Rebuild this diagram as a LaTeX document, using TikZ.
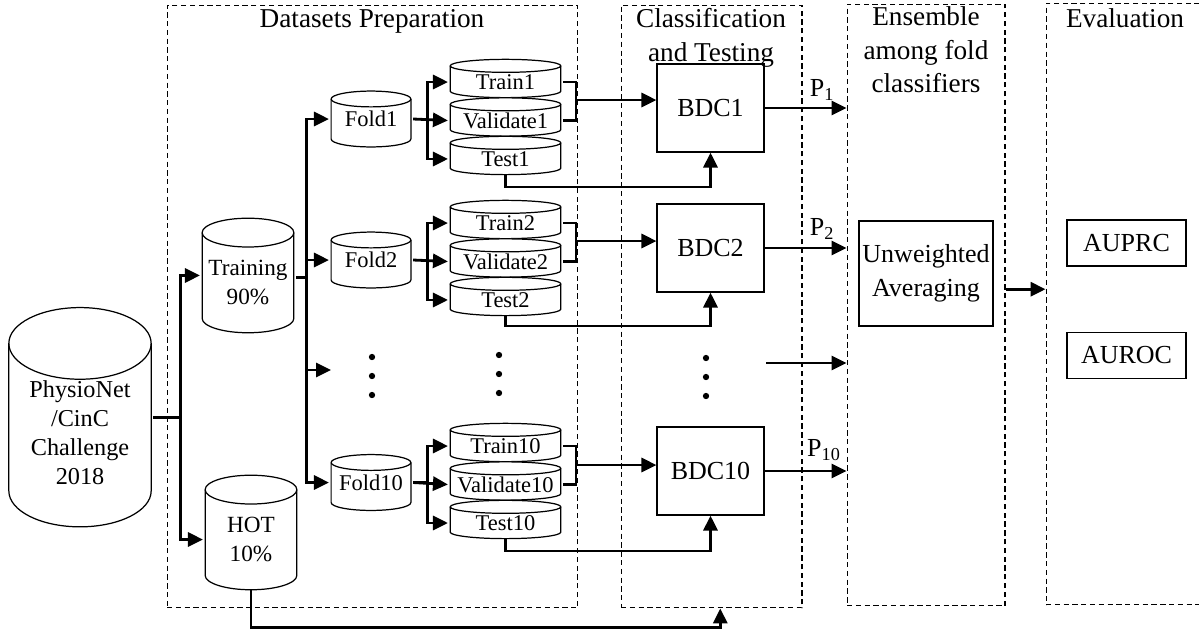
\documentclass[tikz,border=0pt]{standalone}
\usepackage{fontspec}
\setmainfont{Liberation Serif}
\usepackage{tikz}
\usetikzlibrary{shapes.geometric, arrows.meta}
\newcommand{\titlesz}{\fontsize{15.5}{19}\selectfont}
\newcommand{\boxsz}{\fontsize{14.8}{19.3}\selectfont}
\newcommand{\bigdbsz}{\fontsize{13.8}{16.5}\selectfont}
\newcommand{\middbsz}{\fontsize{13.2}{16.4}\selectfont}
\newcommand{\smalldbsz}{\fontsize{12.8}{15}\selectfont}
% cylinder outline: half width, half height, end radius, raise (all pt)
\newcommand{\dbcyl}[4]{%
  \coordinate (dbc) at ([yshift=#4pt]path picture bounding box.center);
  \draw [fill=white, line width=0.7pt]
    ([shift={(-#1pt,#2pt-#3pt)}]dbc) -- ([shift={(-#1pt,-#2pt+#3pt)}]dbc)
    arc [start angle=180, end angle=360, x radius=#1pt, y radius=#3pt]
    -- ([shift={(#1pt,#2pt-#3pt)}]dbc)
    arc [start angle=0, end angle=180, x radius=#1pt, y radius=#3pt] -- cycle;
  \draw [line width=0.7pt] ([shift={(-#1pt,#2pt-#3pt)}]dbc)
    arc [start angle=180, end angle=360, x radius=#1pt, y radius=#3pt];
}
\tikzstyle{phase} =
[rectangle, draw=black, line width=0.6pt, dash pattern=on 3pt off 2pt]
\tikzstyle{phasetitle} =
[text centered, align=center, font=\titlesz]
\tikzstyle{source} =
[rectangle, minimum width=2.92cm, minimum height=5.09cm, inner sep=0pt,
align=center, font=\bigdbsz, path picture={\dbcyl{40.5}{62.4}{20.4}{9}}]
\tikzstyle{subset} =
[rectangle, minimum width=1.91cm, minimum height=2.65cm, inner sep=0pt,
align=center, font=\middbsz, path picture={\dbcyl{26.1}{32.6}{8.2}{4}}]
\tikzstyle{fold} =
[rectangle, minimum width=1.67cm, minimum height=1.19cm, inner sep=0pt,
font=\smalldbsz, path picture={\dbcyl{22.7}{15.9}{4.5}{0}}]
\tikzstyle{split} =
[rectangle, minimum width=2.29cm, minimum height=0.98cm, inner sep=0pt,
font=\smalldbsz, path picture={\dbcyl{31.5}{10.9}{3.7}{2}}]
\tikzstyle{classifier} =
[rectangle, minimum width=2.14cm, minimum height=1.76cm, text centered,
draw=black, line width=0.7pt, font=\boxsz]
\tikzstyle{average} =
[rectangle, minimum width=2.68cm, minimum height=2.1cm, inner sep=0pt,
align=center, draw=black, line width=0.7pt, font=\boxsz]
\tikzstyle{metric} =
[rectangle, minimum width=2.38cm, minimum height=0.92cm, text centered,
draw=black, line width=0.7pt, font=\boxsz]
\tikzstyle{plabel} = [inner sep=0pt, font=\boxsz]
\tikzstyle{wire} = [draw, line width=1.6pt]
\tikzstyle{line} = [draw, -{Triangle[length=8.5pt, width=8pt]}, line width=1.6pt]
\begin{document}
\begin{tikzpicture}[x=0.02cm, y=-0.02cm, node distance=0.77cm, auto]
  \useasboundingbox (0,0) rectangle (1199,630);
  % phase boxes
  \node [phase, minimum width=8.22cm, minimum height=12.06cm] (prep) at (372.5,306.5) {};
  \node [phase, minimum width=3.62cm, minimum height=12.06cm] (clf) at (711.5,306.5) {};
  \node [phase, minimum width=3.16cm, minimum height=12.04cm] (ens) at (926,305) {};
  \node [phase, minimum width=3.6cm, minimum height=12.04cm] (evl) at (1136,304) {};
  \node [phasetitle] (tprep) at (372,21) {Datasets Preparation};
  \node [phasetitle] (tclf) at (711,38) {Classification\\and Testing};
  \node [phasetitle] (tens) at (926,50) {Ensemble\\among fold\\classifiers};
  \node [phasetitle] (tevl) at (1125,18) {Evaluation};
  %
  % source and first split
  \node [source] (physio) at (80,433) {PhysioNet\\/CinC\\Challenge\\2018};
  \node [subset] (training) at (248,282.5) {Training\\90\%};
  \node [subset] (hot) at (251,539.5) {HOT\\10\%};
  \path [line] ([yshift=9pt]physio.east) -- ++(27,0) |- ([yshift=4pt]training.west);
  \path [line] ([yshift=9pt]physio.east) -- ++(27,0) |- (hot.west);
  %
  % folds
  \node [fold] (fold1) at (371,119) {Fold1};
  \node [fold] (fold2) at (371,260) {Fold2};
  \node [fold] (fold10) at (371,482.5) {Fold10};
  \coordinate (foldmore) at (331,370);
  \path [line] ([yshift=3pt]training.east) -- ++(10,0) |- (fold1.west);
  \path [line] ([yshift=3pt]training.east) -- ++(10,0) |- (fold2.west);
  \path [line] ([yshift=3pt]training.east) -- ++(10,0) |- (foldmore);
  \path [line] ([yshift=3pt]training.east) -- ++(10,0) |- (fold10.west);
  %
  % train / validate / test sets
  \node [split] (train1) at (505.5,82) {Train1};
  \node [split, below of=train1] (val1) {Validate1};
  \node [split, below of=val1] (test1) {Test1};
  \node [split] (train2) at (505.5,223) {Train2};
  \node [split, below of=train2] (val2) {Validate2};
  \node [split, below of=val2] (test2) {Test2};
  \node [split] (train10) at (505.5,446) {Train10};
  \node [split, below of=train10] (val10) {Validate10};
  \node [split, below of=val10] (test10) {Test10};
  \path [line] (fold1.east) -- ++(14,0) |- (train1.west);
  \path [line] (fold1.east) -- (val1.west);
  \path [line] (fold1.east) -- ++(14,0) |- (test1.west);
  \path [line] (fold2.east) -- ++(14,0) |- (train2.west);
  \path [line] (fold2.east) -- (val2.west);
  \path [line] (fold2.east) -- ++(14,0) |- (test2.west);
  \path [line] (fold10.east) -- ++(14,0) |- (train10.west);
  \path [line] (fold10.east) -- (val10.west);
  \path [line] (fold10.east) -- ++(14,0) |- (test10.west);
  %
  % dots
  \fill (372,357) circle (1.8pt); \fill (372,376) circle (1.8pt); \fill (372,395) circle (1.8pt);
  \fill (499,355) circle (1.8pt); \fill (499,374) circle (1.8pt); \fill (499,393) circle (1.8pt);
  \fill (706,358) circle (1.8pt); \fill (706,377) circle (1.8pt); \fill (706,396) circle (1.8pt);
  %
  % classifiers
  \node [classifier] (bdc1) at (710.5,108) {BDC1};
  \node [classifier] (bdc2) at (710.5,248) {BDC2};
  \node [classifier] (bdc10) at (710.5,471) {BDC10};
  \coordinate (join1) at (576,100);
  \coordinate (join2) at (576,241);
  \coordinate (join10) at (576,465);
  \draw [wire] (train1.east) -| (join1) |- (val1.east);
  \draw [wire] (train2.east) -| (join2) |- (val2.east);
  \draw [wire] (train10.east) -| (join10) |- (val10.east);
  \path [line] (join1) -- (join1 -| bdc1.west);
  \path [line] (join2) -- (join2 -| bdc2.west);
  \path [line] (join10) -- (join10 -| bdc10.west);
  \path [line] ([yshift=5pt]test1.south) -- ++(0,12) -| (bdc1.south);
  \path [line] ([yshift=5pt]test2.south) -- ++(0,10) -| (bdc2.south);
  \path [line] ([yshift=5pt]test10.south) -- ++(0,12) -| (bdc10.south);
  \path [line] ([yshift=9pt]hot.south) -- ++(0,37) -| ([xshift=5pt]clf.south);
  %
  % ensemble
  \node [average] (avg) at (926,273.5) {Unweighted\\Averaging};
  \node [plabel] (p1) at (822,90) {P\textsubscript{1}};
  \node [plabel] (p2) at (822,229) {P\textsubscript{2}};
  \node [plabel] (p10) at (824,450) {P\textsubscript{10}};
  \coordinate (moreout) at (766,363);
  \path [line] (bdc1.east) -- (bdc1.east -| ens.west);
  \path [line] (bdc2.east) -- (bdc2.east -| ens.west);
  \path [line] (moreout) -- (moreout -| ens.west);
  \path [line] (bdc10.east) -- (bdc10.east -| ens.west);
  %
  % evaluation
  \node [metric] (auprc) at (1126.5,243) {AUPRC};
  \node [metric] (auroc) at (1126.5,355.5) {AUROC};
  \path [line] ([yshift=9pt]ens.east) -- ([yshift=9pt]ens.east -| evl.west);
\end{tikzpicture}
\end{document}
